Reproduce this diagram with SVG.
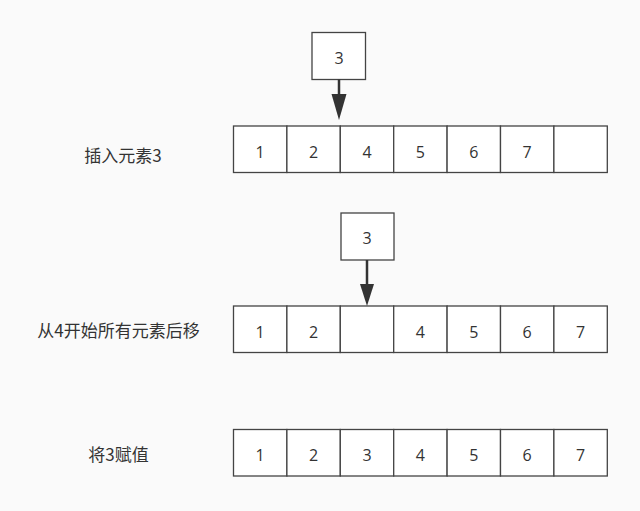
<svg xmlns="http://www.w3.org/2000/svg" width="640" height="511" viewBox="0 0 640 511">
<style>
.cell{fill:#ffffff;stroke:#444444;stroke-width:1.3}
.num{font-family:"Open Sans","Liberation Sans",sans-serif;font-size:16px;fill:#333333;text-anchor:middle}
.lbl{font-family:"Noto Sans CJK SC","Liberation Sans",sans-serif;font-size:17px;fill:#333333;text-anchor:middle}
.edge{stroke:#333333;stroke-width:2.5;fill:none}
.head{fill:#333333;stroke:none}
</style>
<rect x="0" y="0" width="640" height="511" fill="#fafafa"/>

<g id="label1"><text class="lbl" x="123" y="161.5">插入元素3</text></g>
<g id="label2"><text class="lbl" x="118.5" y="337">从4开始所有元素后移</text></g>
<g id="label3"><text class="lbl" x="118.5" y="461">将3赋值</text></g>

<g id="new1">
<rect class="cell" x="312" y="32.5" width="53.5" height="47"/>
<text class="num" x="339" y="63.5">3</text>
</g>
<g id="new2">
<rect class="cell" x="341" y="213" width="53" height="47"/>
<text class="num" x="367" y="244">3</text>
</g>

<g id="row1">
<rect class="cell" x="233.5" y="126" width="53.4" height="46.5"/>
<rect class="cell" x="286.9" y="126" width="53.4" height="46.5"/>
<rect class="cell" x="340.3" y="126" width="53.4" height="46.5"/>
<rect class="cell" x="393.7" y="126" width="53.4" height="46.5"/>
<rect class="cell" x="447.1" y="126" width="53.4" height="46.5"/>
<rect class="cell" x="500.5" y="126" width="53.4" height="46.5"/>
<rect class="cell" x="553.9" y="126" width="53.4" height="46.5"/>
<text class="num" x="260.2" y="157.5">1</text>
<text class="num" x="313.6" y="157.5">2</text>
<text class="num" x="367" y="157.5">4</text>
<text class="num" x="420.4" y="157.5">5</text>
<text class="num" x="473.8" y="157.5">6</text>
<text class="num" x="527.2" y="157.5">7</text>
</g>

<g id="row2">
<rect class="cell" x="233.5" y="306" width="53.4" height="46.5"/>
<rect class="cell" x="286.9" y="306" width="53.4" height="46.5"/>
<rect class="cell" x="340.3" y="306" width="53.4" height="46.5"/>
<rect class="cell" x="393.7" y="306" width="53.4" height="46.5"/>
<rect class="cell" x="447.1" y="306" width="53.4" height="46.5"/>
<rect class="cell" x="500.5" y="306" width="53.4" height="46.5"/>
<rect class="cell" x="553.9" y="306" width="53.4" height="46.5"/>
<text class="num" x="260.2" y="337.5">1</text>
<text class="num" x="313.6" y="337.5">2</text>
<text class="num" x="420.4" y="337.5">4</text>
<text class="num" x="473.8" y="337.5">5</text>
<text class="num" x="527.2" y="337.5">6</text>
<text class="num" x="580.6" y="337.5">7</text>
</g>

<g id="row3">
<rect class="cell" x="233.5" y="429.5" width="53.4" height="46.5"/>
<rect class="cell" x="286.9" y="429.5" width="53.4" height="46.5"/>
<rect class="cell" x="340.3" y="429.5" width="53.4" height="46.5"/>
<rect class="cell" x="393.7" y="429.5" width="53.4" height="46.5"/>
<rect class="cell" x="447.1" y="429.5" width="53.4" height="46.5"/>
<rect class="cell" x="500.5" y="429.5" width="53.4" height="46.5"/>
<rect class="cell" x="553.9" y="429.5" width="53.4" height="46.5"/>
<text class="num" x="260.2" y="461">1</text>
<text class="num" x="313.6" y="461">2</text>
<text class="num" x="367" y="461">3</text>
<text class="num" x="420.4" y="461">4</text>
<text class="num" x="473.8" y="461">5</text>
<text class="num" x="527.2" y="461">6</text>
<text class="num" x="580.6" y="461">7</text>
</g>

<g id="connectors">
<line class="edge" x1="339" y1="79.5" x2="339" y2="96"/>
<polygon class="head" points="331.5,94 346.5,94 339,120"/>
<line class="edge" x1="367" y1="260" x2="367" y2="286"/>
<polygon class="head" points="360,284 374,284 367,306"/>
</g>
</svg>
